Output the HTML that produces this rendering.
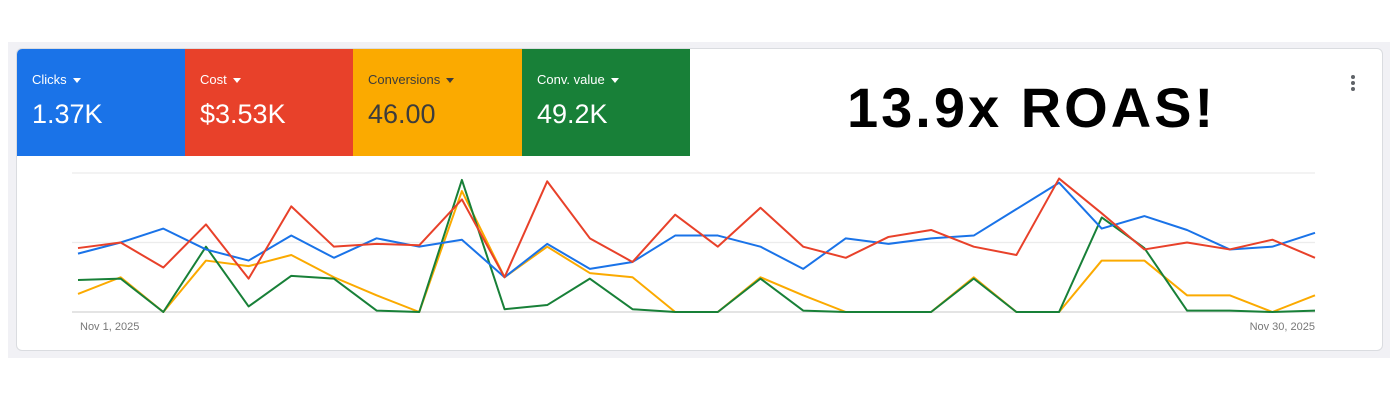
<!DOCTYPE html>
<html><head><meta charset="utf-8"><style>
body{margin:0;width:1400px;height:400px;background:#fff;font-family:"Liberation Sans",sans-serif;position:relative;overflow:hidden}
.band{position:absolute;left:8px;top:42px;width:1382px;height:316px;background:#f1f1f5}
.card{position:absolute;left:16px;top:48px;width:1365px;height:301px;background:#fff;border:1px solid #dadce0;border-radius:6px;overflow:hidden}
.tile{position:absolute;top:0;height:107px;width:169px;color:#fff}
.tile .lb{position:absolute;left:15px;top:23px;font-size:13px}
.tile .v{position:absolute;left:15px;top:50px;font-size:27px}
.tri{display:inline-block;width:0;height:0;border-left:4px solid transparent;border-right:4px solid transparent;border-top:5px solid currentColor;margin-left:6px;vertical-align:middle}
.roas{position:absolute;left:830px;top:26px;font-size:56px;font-weight:bold;color:#000;letter-spacing:3px}
.dot{position:absolute;left:1334px;width:4px;height:4px;border-radius:2px;background:#5f6368}
</style></head><body>
<div class="band"></div>
<div class="card">
 <div class="tile" style="left:0;background:#1a73e8"><div class="lb">Clicks<span class="tri"></span></div><div class="v">1.37K</div></div>
 <div class="tile" style="left:168px;background:#e8412a"><div class="lb">Cost<span class="tri"></span></div><div class="v">$3.53K</div></div>
 <div class="tile" style="left:336px;width:169px;background:#fbaa00;color:#3c3c3c"><div class="lb">Conversions<span class="tri"></span></div><div class="v">46.00</div></div>
 <div class="tile" style="left:505px;width:168px;background:#188038"><div class="lb">Conv. value<span class="tri"></span></div><div class="v">49.2K</div></div>
 <div class="roas">13.9x ROAS!</div>
 <div><div class="dot" style="top:26px"></div><div class="dot" style="top:32px"></div><div class="dot" style="top:38px"></div></div>
</div>
<svg id="chart" width="1400" height="400" style="position:absolute;left:0;top:0"></svg>
<script>
const dates=["Nov 1, 2025","Nov 30, 2025"];
const clicks=[42,50,60,45,37,55,39,53,47,52,25,49,31,36,55,55,47,31,53,49,53,55,74,93,60,69,59,45,47,57];
const cost=[46,50,32,63,24,76,47,49,48,81,25,94,53,36,70,47,75,47,39,54,59,47,41,96,71,45,50,45,52,39];
const conversions=[13,25,0,37,33,41,25,12,0,87,25,47,28,25,0,0,25,12,0,0,0,25,0,0,37,37,12,12,0,12];
const convValue=[23,24,0,47,4,26,24,1,0,95,2,5,24,2,0,0,24,1,0,0,0,24,0,0,68,46,1,1,0,1];
const gridVals=[0,50,100];
const svg=document.getElementById('chart');const NS='http://www.w3.org/2000/svg';
const x=i=>78+i*(1237/29);const y=v=>312-v*1.39;
gridVals.forEach(g=>{const l=document.createElementNS(NS,'line');


l.setAttribute('x1',72);l.setAttribute('x2',1315);l.setAttribute('y1',y(g));l.setAttribute('y2',y(g));l.setAttribute('stroke',g==0?'#dcdcdc':'#ececec');l.setAttribute('stroke-width',g==0?1.5:1.2);svg.appendChild(l);});
[[dates[0],80,'start'],[dates[1],1315,'end']].forEach(d=>{const t=document.createElementNS(NS,'text');


t.setAttribute('x',d[1]);t.setAttribute('y',330);t.setAttribute('text-anchor',d[2]);t.setAttribute('font-size','11');t.setAttribute('fill','#777');t.setAttribute('font-family','Liberation Sans, sans-serif');t.textContent=d[0];svg.appendChild(t);});
[[conversions,'#fbaa00','conversions-line'],[convValue,'#188038','conv-value-line'],[clicks,'#1a73e8','clicks-line'],[cost,'#e8412a','cost-line']].forEach(s=>{
const p=document.createElementNS(NS,'polyline');


p.setAttribute('points',s[0].map((v,i)=>x(i)+','+y(v)).join(' '));p.setAttribute('fill','none');p.setAttribute('stroke',s[1]);p.setAttribute('stroke-width','2');p.setAttribute('stroke-linejoin','round');svg.appendChild(p);});
</script>
</body></html>
